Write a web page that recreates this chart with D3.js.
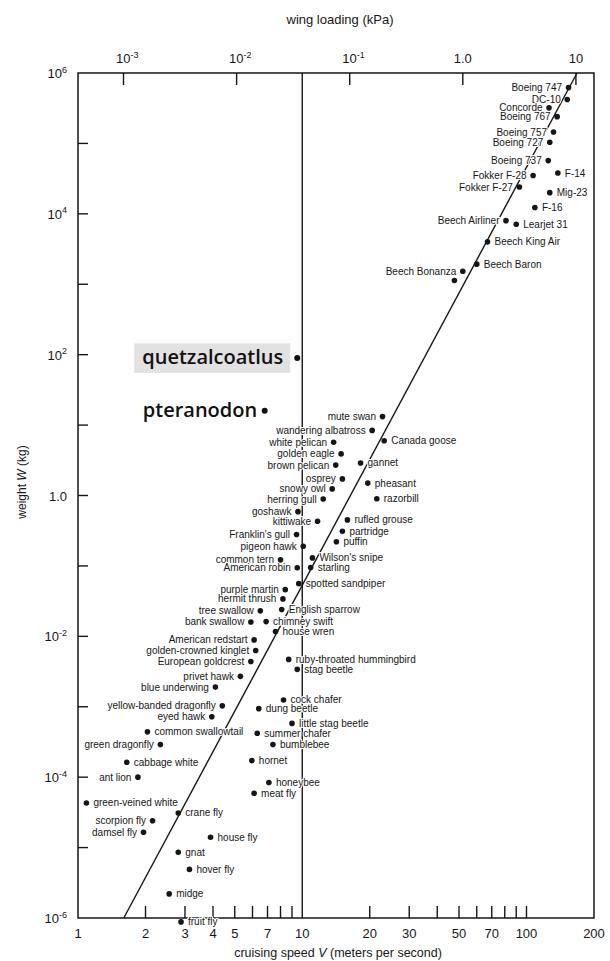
<!DOCTYPE html>
<html><head><meta charset="utf-8">
<script src="https://cdn.jsdelivr.net/npm/d3@7"></script>
<style>
body{margin:0;background:#fff;}
svg{display:block;}
text{font-family:"Liberation Sans",Arial,Helvetica,sans-serif;fill:#161616;}
</style></head><body>
<svg id="chart" width="610" height="961"></svg>
<script>
// ---------- data ----------
// flyers: name, cruising speed V (m/s), weight W (kg)
const names = [
 "Boeing 747","DC-10","Concorde","Boeing 767","Boeing 757","Boeing 727","Boeing 737",
 "Fokker F-28","F-14","Fokker F-27","Mig-23","F-16","Beech Airliner","Learjet 31",
 "Beech King Air","Beech Baron","Beech Bonanza","",
 "mute swan","wandering albatross","white pelican","Canada goose","golden eagle","brown pelican",
 "gannet","osprey","pheasant","snowy owl","razorbill","herring gull","goshawk","kittiwake",
 "rufled grouse","partridge","Franklin's gull","puffin","pigeon hawk","Wilson's snipe",
 "common tern","American robin","starling","spotted sandpiper","purple martin","hermit thrush",
 "tree swallow","English sparrow","bank swallow","chimney swift","house wren","American redstart",
 "golden-crowned kinglet","European goldcrest","ruby-throated hummingbird",
 "stag beetle","privet hawk","blue underwing","cock chafer","yellow-banded dragonfly","dung beetle",
 "eyed hawk","little stag beetle","common swallowtail","summer chafer","green dragonfly","bumblebee",
 "hornet","cabbage white","ant lion","honeybee","meat fly","green-veined white","crane fly",
 "scorpion fly","damsel fly","house fly","gnat","hover fly","midge","fruit fly"
];
const speed = [
 154,152,126,137,132,127,125,
 107,138,93,127,109,81,90,
 67,60,52,47.7,
 22.8,20.5,13.8,23.2,14.9,14.1,
 18.2,15.1,19.6,13.6,21.5,12.4,9.57,11.7,
 15.9,15.1,9.43,14.2,10.1,11.1,
 8.0,9.5,10.9,9.65,8.4,8.2,
 6.5,8.1,5.9,6.9,7.6,6.1,
 6.2,5.9,8.7,
 9.5,5.3,4.1,8.25,4.4,6.4,
 3.95,9.0,2.04,6.3,2.33,7.4,
 5.96,1.65,1.85,7.1,6.1,1.09,2.8,
 2.15,1.96,3.9,2.8,3.14,2.55,2.88
];
const weight = [
 6.2e5,4.2e5,3.2e5,2.4e5,1.45e5,1.04e5,5.7e4,
 3.5e4,3.8e4,2.4e4,2.0e4,1.23e4,8.0e3,7.1e3,
 4.0e3,1.93e3,1.53e3,1.13e3,
 13.2,8.4,5.7,6.0,3.9,2.7,
 2.9,1.72,1.5,1.24,0.90,0.89,0.59,0.43,
 0.45,0.31,0.28,0.22,0.19,0.13,
 0.122,0.094,0.095,0.056,0.046,0.034,
 0.023,0.024,0.016,0.0162,0.0117,0.0089,
 0.0063,0.0044,0.0047,
 0.0034,0.0027,0.0019,0.00125,0.00103,0.00094,
 0.00072,0.00058,0.00044,0.00042,0.00029,0.00029,
 0.000172,0.000163,0.0001,8.4e-5,5.9e-5,4.3e-5,3.1e-5,
 2.4e-5,1.65e-5,1.4e-5,8.6e-6,4.9e-6,2.2e-6,8.8e-7
];
// names whose label sits to the right of the dot
const rightLabelled = [
 "F-14","Mig-23","F-16","Learjet 31","Beech King Air","Beech Baron",
 "Canada goose","gannet","pheasant","razorbill","rufled grouse","partridge","puffin",
 "Wilson's snipe","starling","spotted sandpiper","English sparrow","chimney swift","house wren",
 "ruby-throated hummingbird","stag beetle","cock chafer","dung beetle","little stag beetle",
 "common swallowtail","summer chafer","bumblebee","hornet","cabbage white","honeybee","meat fly",
 "green-veined white","crane fly","house fly","gnat","hover fly","midge","fruit fly"
];
// pterosaurs (highlighted)
const pteroNames = ["quetzalcoatlus","pteranodon"];
const pteroSpeed = [9.5, 6.8];
const pteroWeight = [90, 16];

// reference lines
const fitSpeed = [1.6, 168];
const fitWeight = [1e-6, 1e6];
const refSpeed = 10;

// ticks
const xTickLabels = [1,2,3,4,5,7,10,20,30,50,70,100,200];
const xMinorTicks = [2,3,4,5,6,7,8,9,20,30,40,50,60,70,80,90,100];
const yTicks = [1e-5,1e-4,1e-3,1e-2,1e-1,1,1e1,1e2,1e3,1e4,1e5];
const yLabelValues = [1e6,1e4,1e2,1,1e-2,1e-4,1e-6];
const yLabelText = ["10^6","10^4","10^2","1.0","10^-2","10^-4","10^-6"];
const topTicks = [1e-3,1e-2,1e-1,1,10];
const topLabelText = ["10^-3","10^-2","10^-1","1.0","10"];

// ---------- drawing ----------
const svg = d3.select("#chart");
const L = 78, R = 594, T = 73, B = 918;
const x = d3.scaleLog().domain([1,200]).range([L,R]);
const y = d3.scaleLog().domain([1e-6,1e6]).range([B,T]);
const xw = d3.scaleLog().domain([3.96e-4,14.45]).range([L,R]); // wing loading (kPa)
const ink = "#161616";

function supText(sel, str, baseSize, supSize){
  const parts = str.split("^");
  sel.append("tspan").attr("font-size",baseSize).text(parts[0]);
  if(parts[1]!==undefined){
    sel.append("tspan").attr("font-size",supSize).attr("dy",-baseSize*0.42).text(parts[1].replace("-","\u2011"));
  }
}

// frame
svg.append("rect").attr("x",L).attr("y",T).attr("width",R-L).attr("height",B-T)
  .attr("fill","none").attr("stroke",ink).attr("stroke-width",1.5);

// left ticks
svg.append("g").selectAll("line").data(yTicks).join("line")
  .attr("x1",L).attr("x2",L+10).attr("y1",d=>y(d)).attr("y2",d=>y(d))
  .attr("stroke",ink).attr("stroke-width",1.4);
// bottom ticks
svg.append("g").selectAll("line").data(xMinorTicks).join("line")
  .attr("x1",d=>x(d)).attr("x2",d=>x(d)).attr("y1",B).attr("y2",B-12)
  .attr("stroke",ink).attr("stroke-width",1.4);
// top ticks
svg.append("g").selectAll("line").data(topTicks).join("line")
  .attr("x1",d=>xw(d)).attr("x2",d=>xw(d)).attr("y1",T).attr("y2",T+12)
  .attr("stroke",ink).attr("stroke-width",1.4);

// reference vertical line at V = 10
svg.append("line").attr("x1",x(refSpeed)).attr("x2",x(refSpeed)).attr("y1",T).attr("y2",B)
  .attr("stroke",ink).attr("stroke-width",1.4);
// fit line
const fitData = fitSpeed.map((v,i)=>({v, w:fitWeight[i]}));
svg.append("path").datum(fitData)
  .attr("d",d3.line().x(d=>x(d.v)).y(d=>y(d.w)))
  .attr("stroke",ink).attr("stroke-width",1.4).attr("fill","none");

// left labels
yLabelValues.forEach((v,i)=>{
  const t = svg.append("text").attr("x",67).attr("y",y(v)+5).attr("text-anchor","end");
  supText(t, yLabelText[i], 13, 9);
});
// top labels
topTicks.forEach((v,i)=>{
  const str = topLabelText[i];
  const hasSup = str.includes("^");
  const t = svg.append("text").attr("y",63)
    .attr("x", hasSup ? xw(v)-7.5 : xw(v)).attr("text-anchor", hasSup ? "start" : "middle");
  supText(t, str, 13, 9);
});
// bottom labels
svg.append("g").selectAll("text").data(xTickLabels).join("text")
  .attr("x",d=>x(d)).attr("y",938).attr("text-anchor","middle").attr("font-size",13)
  .text(d=>d);

// axis titles
svg.append("text").attr("x",340).attr("y",24).attr("text-anchor","middle").attr("font-size",13)
  .text("wing loading (kPa)");
const xt = svg.append("text").attr("x",338).attr("y",957).attr("text-anchor","middle").attr("font-size",12.5);
xt.append("tspan").text("cruising speed ");
xt.append("tspan").attr("font-style","italic").text("V");
xt.append("tspan").text(" (meters per second)");
const yt = svg.append("text").attr("transform","translate(26,482) rotate(-90)").attr("text-anchor","middle").attr("font-size",12);
yt.append("tspan").text("weight ");
yt.append("tspan").attr("font-style","italic").text("W");
yt.append("tspan").text(" (kg)");

// flyers
const flyers = names.map((n,i)=>({name:n, v:speed[i], w:weight[i], right:rightLabelled.includes(n)}));
svg.append("g").selectAll("text").data(flyers.filter(d=>d.name)).join("text")
  .attr("x",d=>d.right ? x(d.v)+7 : x(d.v)-6.5)
  .attr("y",d=>y(d.w)+3.5)
  .attr("text-anchor",d=>d.right ? "start" : "end")
  .attr("font-size",10)
  .attr("stroke","#fff").attr("stroke-width",2.2).attr("paint-order","stroke")
  .attr("stroke-linejoin","round")
  .text(d=>d.name);
svg.append("g").selectAll("circle").data(flyers).join("circle")
  .attr("cx",d=>x(d.v)).attr("cy",d=>y(d.w)).attr("r",2.8).attr("fill",ink);

// pterosaurs
const pteros = pteroNames.map((n,i)=>({name:n, v:pteroSpeed[i], w:pteroWeight[i]}));
const pg = svg.append("g");
pteros.forEach((d,i)=>{
  const cx = x(d.v), cy = y(d.w);
  const t = pg.append("text").attr("x", i===0 ? cx-14 : cx-7.5).attr("y", cy+6.5)
    .attr("text-anchor","end").attr("font-size",20).attr("font-weight",600)
    .style("font-family","'Open Sans','Noto Sans',sans-serif").style("fill","#111")
    .text(d.name);
  if(i===0){
    const bb = t.node().getBBox();
    pg.insert("rect","text").attr("x",bb.x-8).attr("y",cy-14.5).attr("width",bb.width+15).attr("height",29.5)
      .attr("fill","#e2e2e2");
  }
  pg.append("circle").attr("cx",cx).attr("cy",cy).attr("r",3).attr("fill","#111");
});
</script>
</body></html>
